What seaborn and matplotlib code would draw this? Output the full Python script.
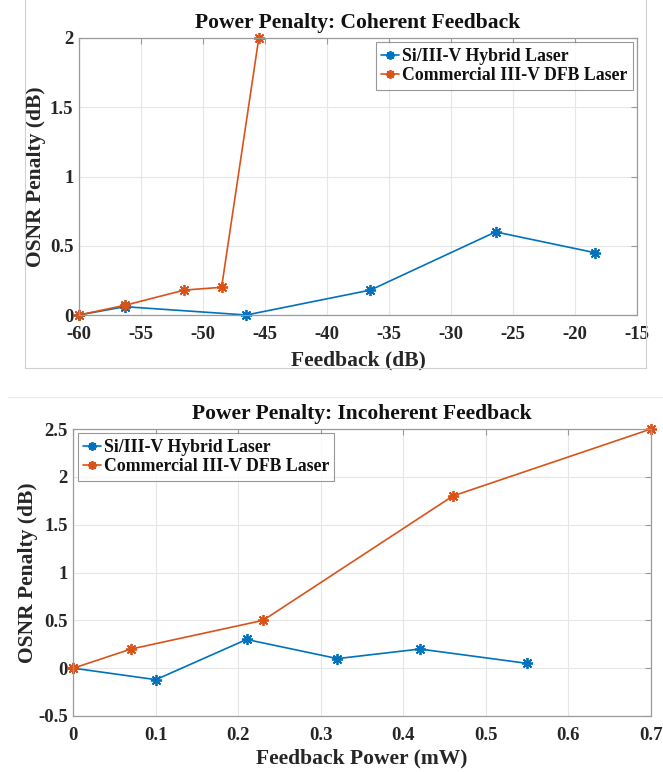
import numpy as np
import pandas as pd
import seaborn as sns
import matplotlib
matplotlib.use("Agg")
import matplotlib.pyplot as plt
from matplotlib.lines import Line2D

# ---- data ----
coh_si_x = [-60, -56.3, -46.5, -36.5, -26.4, -18.4]
coh_si_y = [0, 0.06, 0, 0.18, 0.60, 0.45]
coh_dfb_x = [-60, -56.3, -51.5, -48.5, -45.5]
coh_dfb_y = [0, 0.07, 0.18, 0.20, 2.0]

inc_si_x = [0, 0.10, 0.21, 0.32, 0.42, 0.55]
inc_si_y = [0, -0.12, 0.30, 0.10, 0.20, 0.05]
inc_dfb_x = [0, 0.07, 0.23, 0.46, 0.70]
inc_dfb_y = [0, 0.20, 0.50, 1.80, 2.50]

labels = ["Si/III-V Hybrid Laser", "Commercial III-V DFB Laser"]
titles = ["Power Penalty: Coherent Feedback", "Power Penalty: Incoherent Feedback"]
xlabels = ["Feedback (dB)", "Feedback Power (mW)"]
ylabel = "OSNR Penalty (dB)"
coh_xticks = [-60, -55, -50, -45, -40, -35, -30, -25, -20, -15]
coh_yticks = [0, 0.5, 1, 1.5, 2]
inc_xticks = [0, 0.1, 0.2, 0.3, 0.4, 0.5, 0.6, 0.7]
inc_yticks = [-0.5, 0, 0.5, 1, 1.5, 2, 2.5]

colors = ["#0072BD", "#D95319"]

sns.set_style("white")
plt.rcParams['font.family'] = ['Liberation Serif', 'DejaVu Serif']
plt.rcParams['font.weight'] = 'bold'

fig = plt.figure(figsize=(6.63, 7.72), dpi=100)
W, H = 663, 772

def ax_at(l, t, r, b):
    return fig.add_axes([l / W, 1 - b / H, (r - l) / W, (b - t) / H])

ax1 = ax_at(79, 38, 637, 315)
ax2 = ax_at(73.3, 429, 651, 716)

ASTER = (8, 2, 0)

def draw(ax, series, xt, yt, xlim, ylim, title, xlabel, legloc, ylx, xlpad):
    for (x, y), c, lab in zip(series, colors, labels):
        df = pd.DataFrame({"x": x, "y": y})
        sns.lineplot(data=df, x="x", y="y", ax=ax, color=c, label=lab,
                     marker=ASTER, markersize=8, markeredgecolor=c,
                     markeredgewidth=1.3, linewidth=1.2, estimator=None,
                     sort=False, clip_on=False)
    ax.set_xlim(*xlim)
    ax.set_ylim(*ylim)
    ax.set_xticks(xt)
    ax.set_yticks(yt)
    ax.set_xticklabels([("%g" % v) for v in xt], fontsize=13.5, fontweight='bold', color='#262626')
    ax.set_yticklabels([("%g" % v) for v in yt], fontsize=13.5, fontweight='bold', color='#262626')
    ax.grid(True, color='#e6e6e6', linewidth=0.8)
    ax.set_axisbelow(True)
    for s in ax.spines.values():
        s.set_color('#9a9a9a')
        s.set_linewidth(0.9)
        s.set_visible(True)
    ax.tick_params(direction='in', length=4, width=0.8, color='#9a9a9a',
                   top=True, right=True)
    ax.tick_params(axis='x', pad=8)
    ax.tick_params(axis='y', pad=4)
    ax.set_title(title, fontsize=15.5, fontweight='bold', pad=7, color='#111111')
    ax.set_xlabel(xlabel, fontsize=15.5, fontweight='bold', labelpad=xlpad, color='#262626')
    ax.set_ylabel(ylabel, fontsize=15.5, fontweight='bold', color='#262626')
    ax.yaxis.label.set_va('center')
    ax.yaxis.set_label_coords(ylx, 0.5)
    leg = ax.legend(loc=legloc, fontsize=12.8, handlelength=1.0, handletextpad=0.15,
                    borderpad=0.3, labelspacing=0.15, frameon=True, fancybox=False,
                    borderaxespad=0.25, markerscale=0.8)
    leg.get_frame().set_edgecolor('#7f7f7f')
    leg.get_frame().set_linewidth(0.8)
    for t in leg.get_texts():
        t.set_fontweight('bold')
        t.set_color('#111111')

draw(ax1, [(coh_si_x, coh_si_y), (coh_dfb_x, coh_dfb_y)], coh_xticks, coh_yticks,
     (-60, -15), (0, 2), titles[0], xlabels[0], 'upper right', (36 - 79) / 558, 5)
draw(ax2, [(inc_si_x, inc_si_y), (inc_dfb_x, inc_dfb_y)], inc_xticks, inc_yticks,
     (0, 0.7), (-0.5, 2.5), titles[1], xlabels[1], 'upper left', (28 - 73.3) / 577.7, 3.5)

# faint frame lines from the composed figure
fig.add_artist(Line2D([24.5 / W, 24.5 / W], [1, 1 - 368 / H], color='#d0d0d0', lw=0.8))
fig.add_artist(Line2D([646 / W, 646 / W], [1, 1 - 368 / H], color='#d0d0d0', lw=0.8))
fig.add_artist(Line2D([24.5 / W, 646 / W], [1 - 368 / H, 1 - 368 / H], color='#d0d0d0', lw=0.8))
fig.add_artist(Line2D([8 / W, 1], [1 - 397 / H, 1 - 397 / H], color='#ececec', lw=0.8))

fig.savefig("out.png", dpi=100)
